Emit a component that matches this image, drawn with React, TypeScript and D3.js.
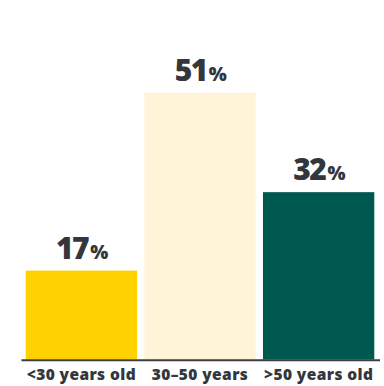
import React from "react";
import * as d3 from "d3";

const categories = ["<30 years old", "30–50 years", ">50 years old"];
const values = [17, 51, 32];
const colors = ["#FFD100", "#FFF4D8", "#00594F"];

const W = 384;
const H = 386;
const baseline = 359.5;
const textColor = "#33363D";
const font = "'Open Sans', Inter, sans-serif";

export default function App() {
  const x = d3.scaleBand<string>().domain(categories).range([25.7, 374.3]).paddingInner(0.0615).paddingOuter(0);
  const y = d3.scaleLinear().domain([0, 51]).range([baseline, baseline - 266.7]);
  return (
    <svg width={W} height={H} style={{ position: "absolute", left: 0, top: 0 }}>
      {categories.map((c, i) => {
        const bx = x(c)!;
        const bw = x.bandwidth();
        const top = y(values[i]);
        return (
          <g key={c}>
            <rect x={bx} y={top} width={bw} height={baseline - top} fill={colors[i]} />
            <text
              x={bx + bw / 2}
              y={top - 12}
              textAnchor="middle"
              fill={textColor}
              fontFamily={font}
              fontWeight={800}
              fontSize={30}
              letterSpacing={-1.5}
            >
              {values[i]}
              <tspan fontSize={19} dx={2}>%</tspan>
            </text>
            <text
              x={bx + bw / 2}
              y={380}
              textAnchor="middle"
              fill={textColor}
              fontFamily={font}
              fontWeight={800}
              fontSize={15.5}
              letterSpacing={0.4}
            >
              {c}
            </text>
          </g>
        );
      })}
      <line x1={21.5} x2={380} y1={baseline + 0.8} y2={baseline + 0.8} stroke="#3A3D44" strokeWidth={2} />
    </svg>
  );
}
